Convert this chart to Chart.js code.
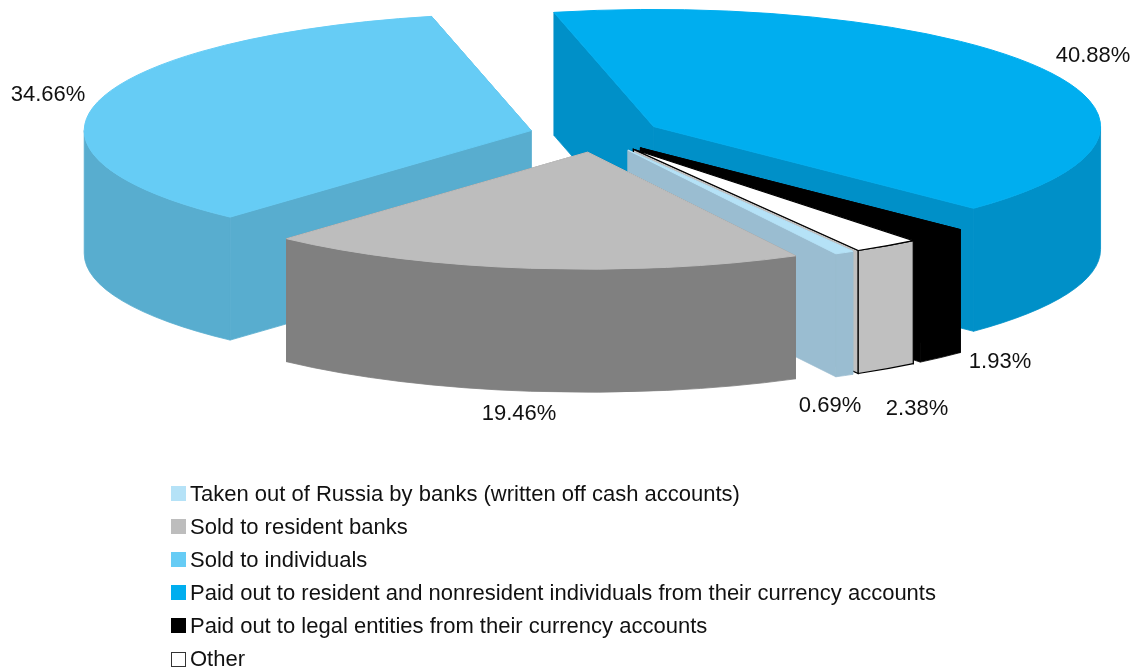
<!DOCTYPE html>
<html>
<head>
<meta charset="utf-8">
<style>
body { margin: 0; background: #fff; }
#wrap { position: relative; width: 1138px; height: 669px; overflow: hidden; }
#legend { position: absolute; left: 171px; top: 476.5px; font: 22px "Liberation Sans", sans-serif; color: #111; }
#legend div { height: 33.2px; line-height: 33.2px; white-space: nowrap; display: flex; align-items: center; }
#legend span { display: inline-block; width: 15px; height: 15px; margin-right: 4px; box-sizing: border-box; }
</style>
</head>
<body>
<div id="wrap">
<canvas id="pieChart" width="1138" height="669"></canvas>
<div id="legend"></div>
</div>
<script src="https://cdn.jsdelivr.net/npm/chart.js@4"></script>
<script>
var categories = [
    'Taken out of Russia by banks (written off cash accounts)',
    'Sold to resident banks',
    'Sold to individuals',
    'Paid out to resident and nonresident individuals from their currency accounts',
    'Paid out to legal entities from their currency accounts',
    'Other'
];
var shares = [0.69, 19.46, 34.66, 40.88, 1.93, 2.38];
var topColors = ['#b5e2f7', '#bdbdbd', '#66ccf5', '#00aeef', '#000000', '#ffffff'];
var sideColors = ['#9abdd1', '#808080', '#58adcf', '#0090c8', '#000000', '#c0c0c0'];

// centre of each percent label, same order as the shares
var labelSpots = [[830, 406], [519, 414], [48, 95], [1093, 56], [1000, 362], [917, 409]];

var tilt = 0.262;      // ellipse height / width
var depth = 123;       // height of the pie wall
var pullOut = [66, 66, 67, 66, 66, 66]; // how far each slice is pulled out
var paintOrder = [2, 3, 4, 5, 0, 1];    // back to front

function sliceGeometry(arc, i) {
    var mid = (arc.startAngle + arc.endAngle) / 2;
    return {
        a0: arc.startAngle,
        a1: arc.endAngle,
        r: arc.outerRadius,
        x: arc.x + Math.cos(mid) * pullOut[i],
        y: arc.y + Math.sin(mid) * pullOut[i] * tilt
    };
}

function rim(g, a) {
    return [g.x + Math.cos(a) * g.r, g.y + Math.sin(a) * g.r * tilt];
}

function drawFace(ctx, g, a) {
    var p = rim(g, a);
    ctx.beginPath();
    ctx.moveTo(g.x, g.y);
    ctx.lineTo(p[0], p[1]);
    ctx.lineTo(p[0], p[1] + depth);
    ctx.lineTo(g.x, g.y + depth);
    ctx.closePath();
    ctx.fill();
    ctx.stroke();
}

// front part of the outer wall, the back part is never seen
function drawWall(ctx, g) {
    var turn = Math.floor(g.a0 / (2 * Math.PI)) * 2 * Math.PI;
    [turn, turn + 2 * Math.PI].forEach(function(t) {
        var from = Math.max(g.a0, t);
        var to = Math.min(g.a1, t + Math.PI);
        if (to <= from) return;
        ctx.beginPath();
        ctx.ellipse(g.x, g.y, g.r, g.r * tilt, 0, from, to);
        ctx.ellipse(g.x, g.y + depth, g.r, g.r * tilt, 0, to, from, true);
        ctx.closePath();
        ctx.fill();
        ctx.stroke();
    });
}

var pie3d = {
    id: 'pie3d',
    beforeDatasetDraw: function(chart, args) {
        var ctx = chart.ctx;
        var arcs = args.meta.data;

        paintOrder.forEach(function(i) {
            var g = sliceGeometry(arcs[i], i);
            var outlined = topColors[i] === '#ffffff';
            ctx.save();
            ctx.fillStyle = sideColors[i];
            ctx.strokeStyle = outlined ? '#000000' : sideColors[i];
            ctx.lineWidth = outlined ? 1.2 : 0.8;
            drawFace(ctx, g, g.a0);
            drawFace(ctx, g, g.a1);
            drawWall(ctx, g);
            ctx.restore();
        });

        // the tops are the library's own arcs, squashed into the ellipse
        arcs.forEach(function(arc, i) {
            var g = sliceGeometry(arc, i);
            var outlined = topColors[i] === '#ffffff';
            ctx.save();
            ctx.translate(g.x, g.y);
            ctx.scale(1, tilt);
            ctx.translate(-arc.x, -arc.y);
            arc.draw(ctx);
            ctx.restore();

            // edge of the top, also hides the wall's hairline
            ctx.save();
            ctx.strokeStyle = outlined ? '#000000' : topColors[i];
            ctx.lineWidth = outlined ? 1.2 : 1;
            ctx.beginPath();
            ctx.ellipse(g.x, g.y, g.r, g.r * tilt, 0, g.a0, g.a1);
            ctx.lineTo(g.x, g.y);
            ctx.closePath();
            ctx.stroke();
            ctx.restore();
        });
        return false;
    },
    afterDraw: function(chart) {
        var ctx = chart.ctx;
        ctx.save();
        ctx.font = '22px "Liberation Sans", sans-serif';
        ctx.fillStyle = '#111111';
        ctx.textAlign = 'center';
        ctx.textBaseline = 'middle';
        shares.forEach(function(v, i) {
            ctx.fillText(v.toFixed(2) + '%', labelSpots[i][0], labelSpots[i][1]);
        });
        ctx.restore();
    }
};

document.addEventListener("DOMContentLoaded", function() {
    var ctx = document.getElementById('pieChart').getContext('2d');
    var pieChart = new Chart(ctx, {
        type: 'pie',
        data: {
            labels: categories,
            datasets: [{
                data: shares,
                backgroundColor: topColors,
                borderWidth: 0,
                clip: false
            }]
        },
        options: {
            responsive: false,
            animation: false,
            rotation: 149.8,
            radius: 447,
            layout: { padding: { left: 54, bottom: 399 } },
            plugins: {
                legend: { display: false },
                tooltip: { enabled: false }
            }
        },
        plugins: [pie3d]
    });

    var legend = document.getElementById('legend');
    categories.forEach(function(name, i) {
        var row = document.createElement('div');
        var box = document.createElement('span');
        box.style.background = topColors[i];
        if (topColors[i] === '#ffffff') box.style.border = '1px solid #333';
        row.appendChild(box);
        row.appendChild(document.createTextNode(name));
        legend.appendChild(row);
    });
});
</script>
</body>
</html>
